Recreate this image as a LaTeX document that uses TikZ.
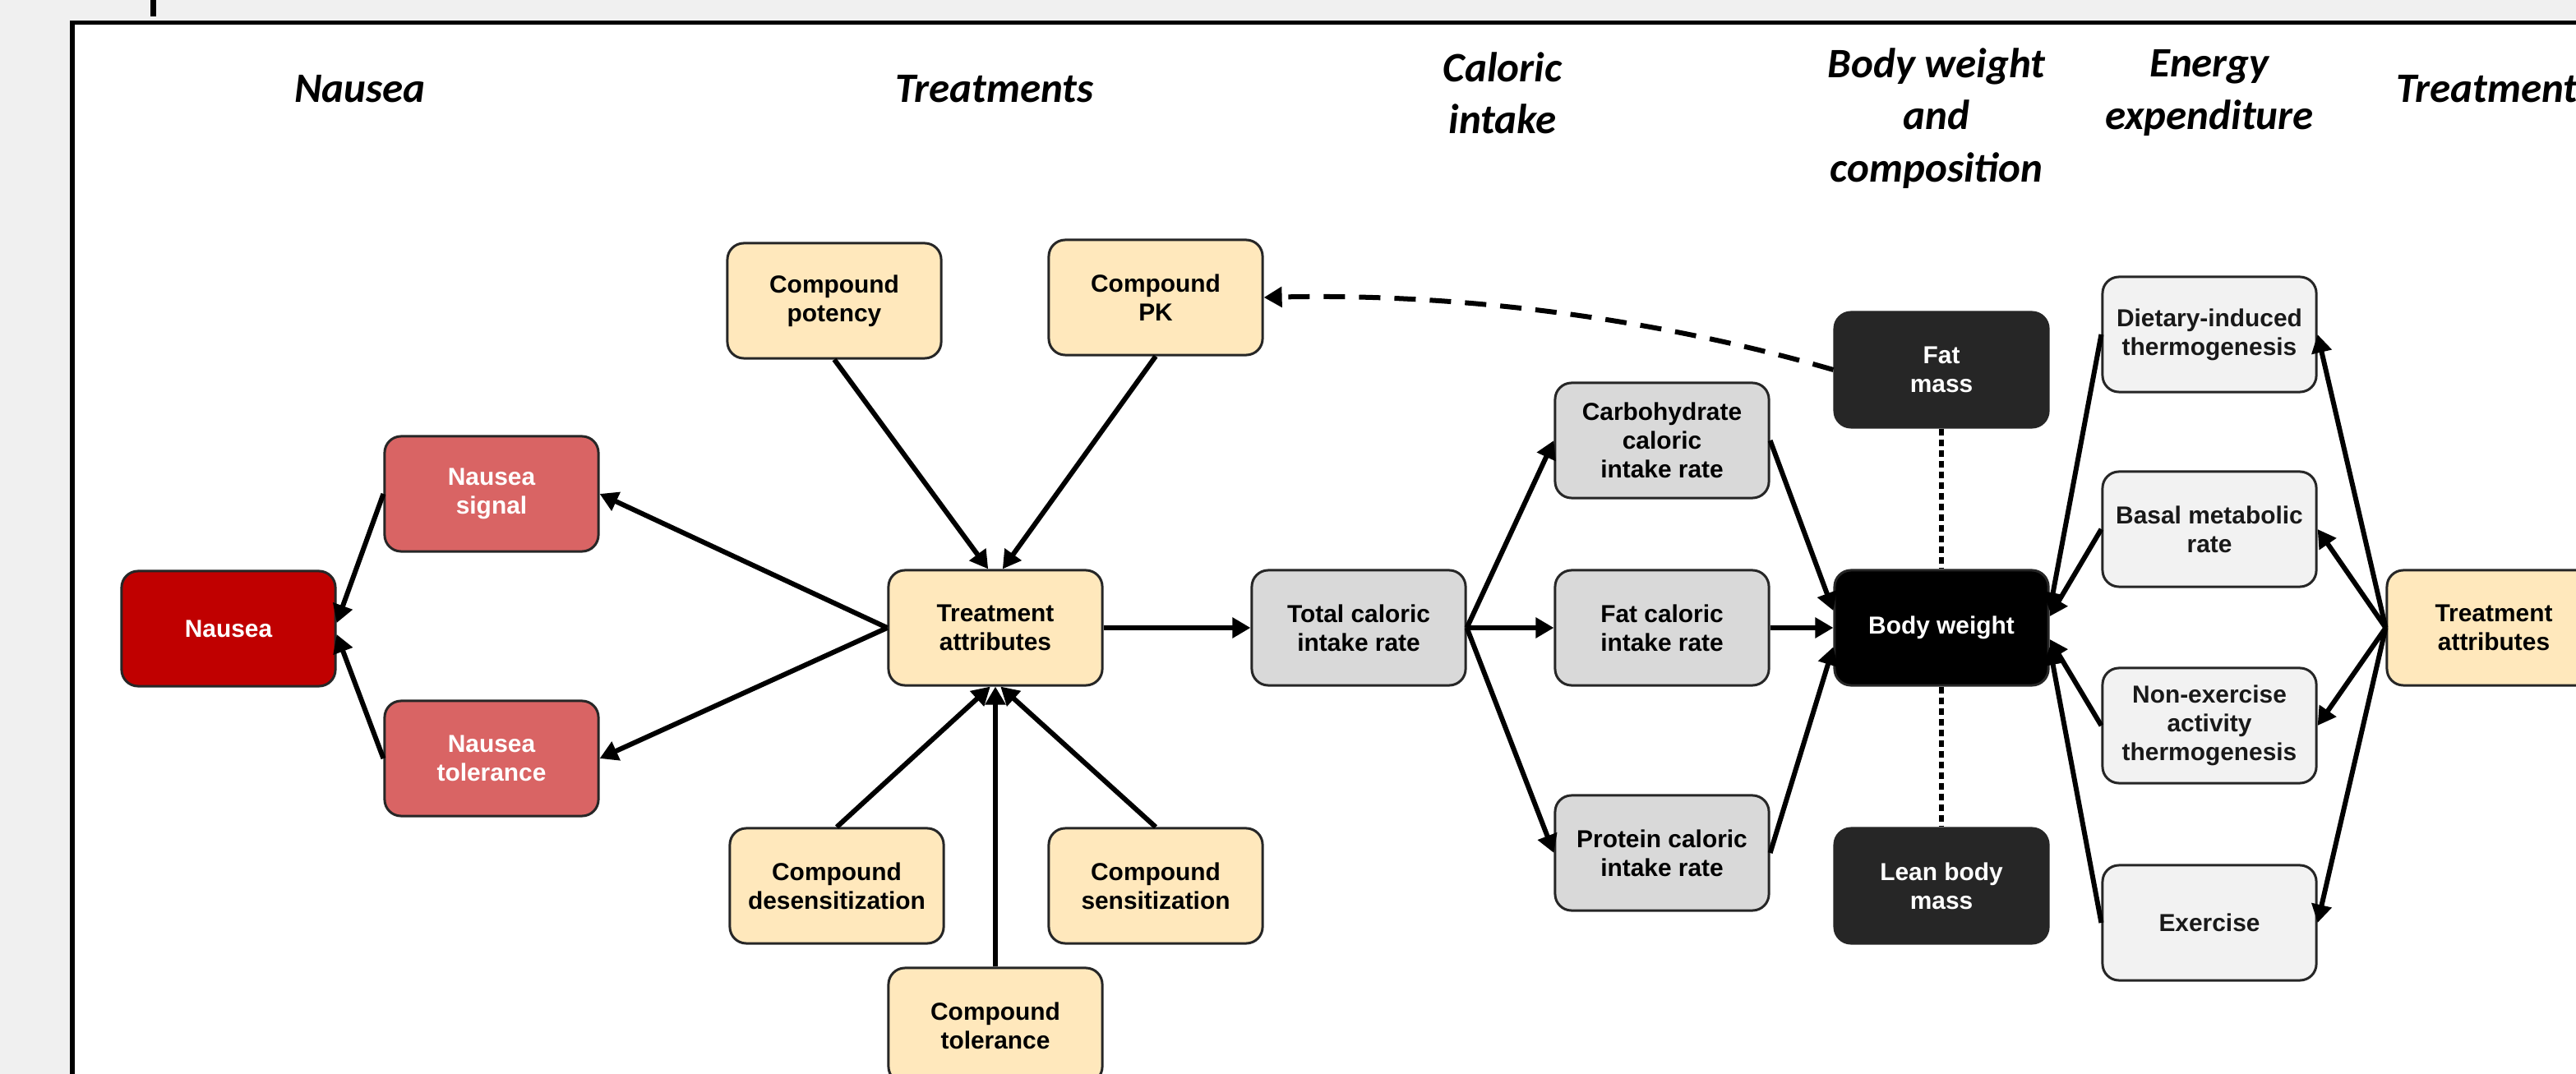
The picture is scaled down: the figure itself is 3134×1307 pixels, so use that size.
\documentclass[tikz,border=0pt]{standalone}
\usepackage{fontspec}
\setmainfont{Liberation Sans}
\newfontfamily\hdrfont{Carlito}
\usetikzlibrary{arrows.meta}

\definecolor{bgout}{HTML}{F0F0F0}
\definecolor{nred}{HTML}{C00000}
\definecolor{nlight}{HTML}{D96464}
\definecolor{treat}{HTML}{FFE8BC}
\definecolor{calg}{HTML}{D9D9D9}
\definecolor{darkb}{HTML}{262626}
\definecolor{energ}{HTML}{F2F2F2}
\definecolor{edgec}{HTML}{262626}

\begin{document}
\begin{tikzpicture}[x=0.01cm,y=-0.01cm,
  box/.style={draw=edgec, line width=0.03cm, rounded corners=0.2cm,
    minimum width=2.6cm, minimum height=1.4cm, inner sep=0pt, align=center,
    font=\fontsize{8.5pt}{10pt}\selectfont\bfseries},
  nausbox/.style={box, fill=nred, text=white},
  nlbox/.style={box, fill=nlight, text=white},
  trbox/.style={box, fill=treat, text=black},
  calbox/.style={box, fill=calg, text=black},
  darkbox/.style={box, fill=darkb, text=white},
  bwbox/.style={box, fill=black, text=white},
  enbox/.style={box, fill=energ, text=black!90},
  hdr/.style={align=center, font=\hdrfont\fontsize{14.5pt}{18pt}\selectfont\bfseries\itshape},
  arr/.style={line width=0.06cm, -{Triangle[length=0.22cm,width=0.24cm]}},
  dashline/.style={line width=0.06cm, dash pattern=on 0.26cm off 0.17cm, -{Triangle[length=0.22cm,width=0.24cm]}},
  dotline/.style={line width=0.065cm, dash pattern=on 0.08cm off 0.05cm},
]
\useasboundingbox (0,0) rectangle (3134,1307);
\clip (0,0) rectangle (3134,1307);
\fill[bgout] (0,0) rectangle (3134,1307);
\draw[line width=0.05cm, fill=white] (88,28) rectangle (3300,1450);
\fill (183,0) rectangle (190,20);

% headers
\node[hdr] (h1) at (438,108) {Nausea};
\node[hdr] (h2) at (1210,108) {Treatments};
\node[hdr] (h3) at (1828,113) {Caloric\\intake};
\node[hdr] (h4) at (2356,144) {Body weight\\and\\composition};
\node[hdr] (h5) at (2688,113) {Energy\\expenditure};
\node[hdr] (h6) at (3036,108) {Treatments};

% nodes
\node[nausbox] (nau) at (278,765) {Nausea};
\node[nlbox] (sig) at (598,601) {Nausea\\signal};
\node[nlbox] (tol) at (598,923) {Nausea\\tolerance};
\node[trbox] (pot) at (1015,366) {Compound\\potency};
\node[trbox] (pk) at (1406,362) {Compound\\PK};
\node[trbox] (ta) at (1211,764) {Treatment\\attributes};
\node[trbox] (des) at (1018,1078) {Compound\\desensitization};
\node[trbox] (sen) at (1406,1078) {Compound\\sensitization};
\node[trbox] (ctol) at (1211,1248) {Compound\\tolerance};
\node[calbox] (tot) at (1653,764) {Total caloric\\intake rate};
\node[calbox] (carb) at (2022,536) {Carbohydrate\\caloric\\intake rate};
\node[calbox] (fatr) at (2022,764) {Fat caloric\\intake rate};
\node[calbox] (prot) at (2022,1038) {Protein caloric\\intake rate};
\node[darkbox] (fm) at (2362,450) {Fat\\mass};
\node[bwbox] (bw) at (2362,764) {Body weight};
\node[darkbox] (lbm) at (2362,1078) {Lean body\\mass};
\node[enbox] (dit) at (2688,407) {Dietary-induced\\thermogenesis};
\node[enbox] (bmr) at (2688,644) {Basal metabolic\\rate};
\node[enbox] (neat) at (2688,883) {Non-exercise\\activity\\thermogenesis};
\node[enbox] (ex) at (2688,1123) {Exercise};
\node[trbox] (ta2) at (3034,764) {Treatment\\attributes};

% nausea
\draw[arr] (sig.west) -- (nau.3.5);
\draw[arr] (tol.west) -- (nau.-3.5);
\draw[arr] (ta.west) -- (sig.east);
\draw[arr] (ta.west) -- (tol.east);
% treatments
\draw[arr] (pot.south) -- (ta.97);
\draw[arr] (pk.south) -- (ta.83);
\draw[arr] (des.north) -- (ta.265);
\draw[arr] (ctol.north) -- (ta.south);
\draw[arr] (sen.north) -- (ta.275);
\draw[arr] (ta.east) -- (tot.west);
% caloric
\draw[arr] (tot.east) -- (carb.west);
\draw[arr] (tot.east) -- (fatr.west);
\draw[arr] (tot.east) -- (prot.west);
\draw[arr] (carb.east) -- (bw.171);
\draw[arr] (fatr.east) -- (bw.west);
\draw[arr] (prot.east) -- (bw.190);
% composition
\draw[dotline] (fm.south) -- (bw.north);
\draw[dotline] (bw.south) -- (lbm.north);
\draw[dashline] (fm.west) .. controls +(-242,-70) and +(210,-5) .. (pk.east);
% energy
\draw[arr] (dit.west) -- (bw.9);
\draw[arr] (bmr.west) -- (bw.6);
\draw[arr] (neat.west) -- (bw.-6);
\draw[arr] (ex.west) -- (bw.-10);
\draw[arr] (ta2.west) -- (dit.east);
\draw[arr] (ta2.west) -- (bmr.east);
\draw[arr] (ta2.west) -- (neat.east);
\draw[arr] (ta2.west) -- (ex.east);
\end{tikzpicture}
\end{document}
